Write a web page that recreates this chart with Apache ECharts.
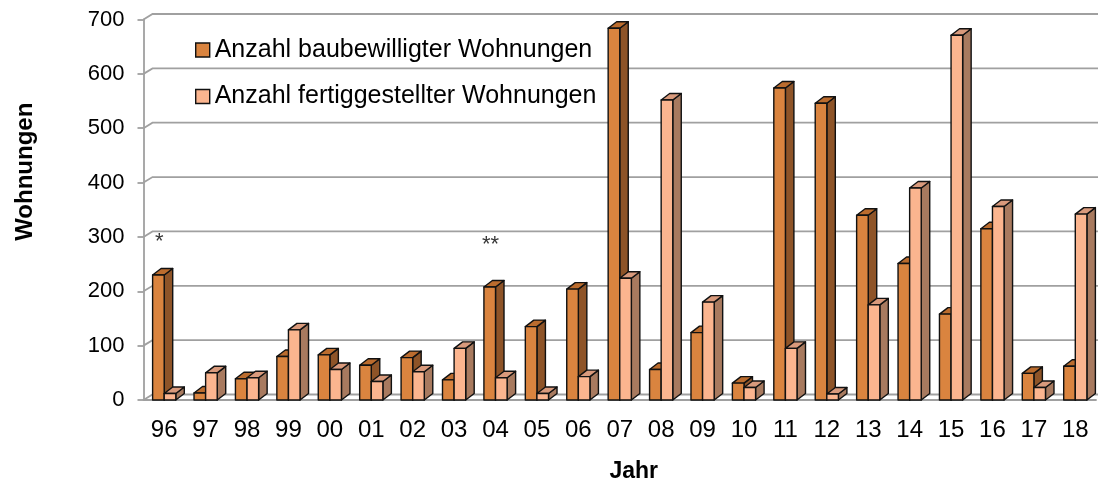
<!DOCTYPE html>
<html>
<head>
<meta charset="utf-8">
<script src="https://cdn.jsdelivr.net/npm/echarts@6/dist/echarts.min.js"></script>
<style>
  html, body { margin: 0; padding: 0; background: #fff; }
  #chart { width: 1098px; height: 486px; }
</style>
</head>
<body>
<div id="chart"></div>
<script>
  // Jahre (Kategorien)
  var years = ['96', '97', '98', '99', '00', '01', '02', '03', '04', '05', '06', '07',
               '08', '09', '10', '11', '12', '13', '14', '15', '16', '17', '18'];
  // Anzahl baubewilligter Wohnungen
  var approved = [230, 13, 39, 80, 83, 64, 78, 37, 208, 135, 204, 684,
                  56, 124, 31, 574, 546, 340, 251, 158, 315, 49, 62];
  // Anzahl fertiggestellter Wohnungen
  var completed = [12, 50, 41, 129, 56, 34, 52, 95, 41, 12, 43, 224,
                   552, 180, 23, 95, 11, 175, 390, 671, 356, 23, 342];
  var yTicks = [0, 100, 200, 300, 400, 500, 600, 700];
  // Fußnoten über den Balken
  var notes = [
    { year: '96', text: '*', at: 290 },
    { year: '04', text: '**', at: 286 }
  ];

  var FONT = 'Liberation Sans, Arial, sans-serif';
  var DX = 8.5, DY = 6.5;       // Tiefe der 3D-Balken
  var WX = 9, WY = 5.5;         // Versatz der Rückwand

  function bar3d(side, front, right, top) {
    return function (params, api) {
      var i = api.value(0);
      var v = api.value(1);
      var t = api.coord([i, v]);
      var b = api.coord([i, 0]);
      var w = api.size([1, 0])[0] * 0.28;
      var x0 = side < 0 ? t[0] - w : t[0];
      var x1 = x0 + w;
      var yT = t[1], yB = b[1];
      var st = { stroke: '#111', lineWidth: 1.4, lineJoin: 'round' };
      return {
        type: 'group',
        children: [
          { type: 'polygon', shape: { points: [[x1, yT], [x1 + DX, yT - DY], [x1 + DX, yB - DY], [x1, yB]] },
            style: Object.assign({ fill: right }, st) },
          { type: 'polygon', shape: { points: [[x0, yT], [x0 + DX, yT - DY], [x1 + DX, yT - DY], [x1, yT]] },
            style: Object.assign({ fill: top }, st) },
          { type: 'rect', shape: { x: x0, y: yT, width: w, height: yB - yT },
            style: Object.assign({ fill: front }, st) }
        ]
      };
    };
  }

  var chart = echarts.init(document.getElementById('chart'));
  chart.setOption({
    backgroundColor: '#fff',
    animation: false,
    textStyle: { fontFamily: FONT },
    grid: { left: 143.5, right: 2, top: 19.5, bottom: 86, outerBoundsMode: 'none' },
    legend: {
      orient: 'vertical',
      left: 190,
      top: 32,
      itemGap: 20.5,
      itemWidth: 14,
      itemHeight: 14,
      textStyle: { fontSize: 25, color: '#000', fontFamily: FONT, lineHeight: 26 },
      data: [
        { name: 'Anzahl baubewilligter Wohnungen', icon: 'rect',
          itemStyle: { color: '#DA843F', borderColor: '#111', borderWidth: 1.4 } },
        { name: 'Anzahl fertiggestellter Wohnungen', icon: 'rect',
          itemStyle: { color: '#FBB58F', borderColor: '#111', borderWidth: 1.4 } }
      ]
    },
    xAxis: {
      type: 'category',
      data: years,
      name: 'Jahr',
      nameLocation: 'middle',
      nameGap: 60,
      nameTextStyle: { fontSize: 23, fontWeight: 'bold', color: '#000', padding: [0, 0, 0, 28] },
      axisLine: { lineStyle: { color: '#a0a0a0', width: 1.8 } },
      axisTick: { length: 8, lineStyle: { color: '#a0a0a0', width: 1.8 } },
      axisLabel: { fontSize: 24, color: '#000', margin: 18 }
    },
    yAxis: {
      type: 'value',
      min: 0,
      max: 700,
      interval: 100,
      name: 'Wohnungen',
      nameLocation: 'middle',
      nameGap: 106,
      nameTextStyle: { fontSize: 24, fontWeight: 'bold', color: '#000', padding: [0, 0, 0, 76] },
      axisLine: { show: true, lineStyle: { color: '#a0a0a0', width: 1.8 } },
      axisTick: { show: true, length: 6, lineStyle: { color: '#a0a0a0', width: 1.8 } },
      axisLabel: { fontSize: 22, color: '#000', margin: 19 },
      splitLine: { show: false }
    },
    series: [
      {
        name: 'wall',
        type: 'custom',
        silent: true,
        clip: false,
        z: 1,
        data: yTicks.map(function (v) { return [0, v]; }),
        renderItem: function (params, api) {
          var cs = params.coordSys;
          var y = api.coord([0, api.value(1)])[1];
          return {
            type: 'polyline',
            shape: { points: [[cs.x, y], [cs.x + WX, y - WY], [cs.x + cs.width + WX, y - WY]] },
            style: { stroke: '#a0a0a0', lineWidth: 1.8, fill: null }
          };
        }
      },
      {
        name: 'Anzahl baubewilligter Wohnungen',
        type: 'custom',
        clip: false,
        z: 3,
        itemStyle: { color: '#DA843F' },
        data: approved.map(function (v, i) { return [i, v]; }),
        renderItem: bar3d(-1, '#DA843F', '#8E5428', '#BB6C2E')
      },
      {
        name: 'Anzahl fertiggestellter Wohnungen',
        type: 'custom',
        clip: false,
        z: 4,
        itemStyle: { color: '#FBB58F' },
        data: completed.map(function (v, i) { return [i, v]; }),
        renderItem: bar3d(1, '#FBB58F', '#A87A5F', '#D99A7C')
      },
      {
        name: 'notes',
        type: 'scatter',
        symbolSize: 0,
        silent: true,
        z: 5,
        data: notes.map(function (n) { return [n.year, n.at]; }),
        label: {
          show: true,
          position: 'inside',
          offset: [-5, 0],
          fontSize: 22,
          color: '#000',
          formatter: function (p) { return notes[p.dataIndex].text; }
        }
      }
    ]
  });
</script>
</body>
</html>
